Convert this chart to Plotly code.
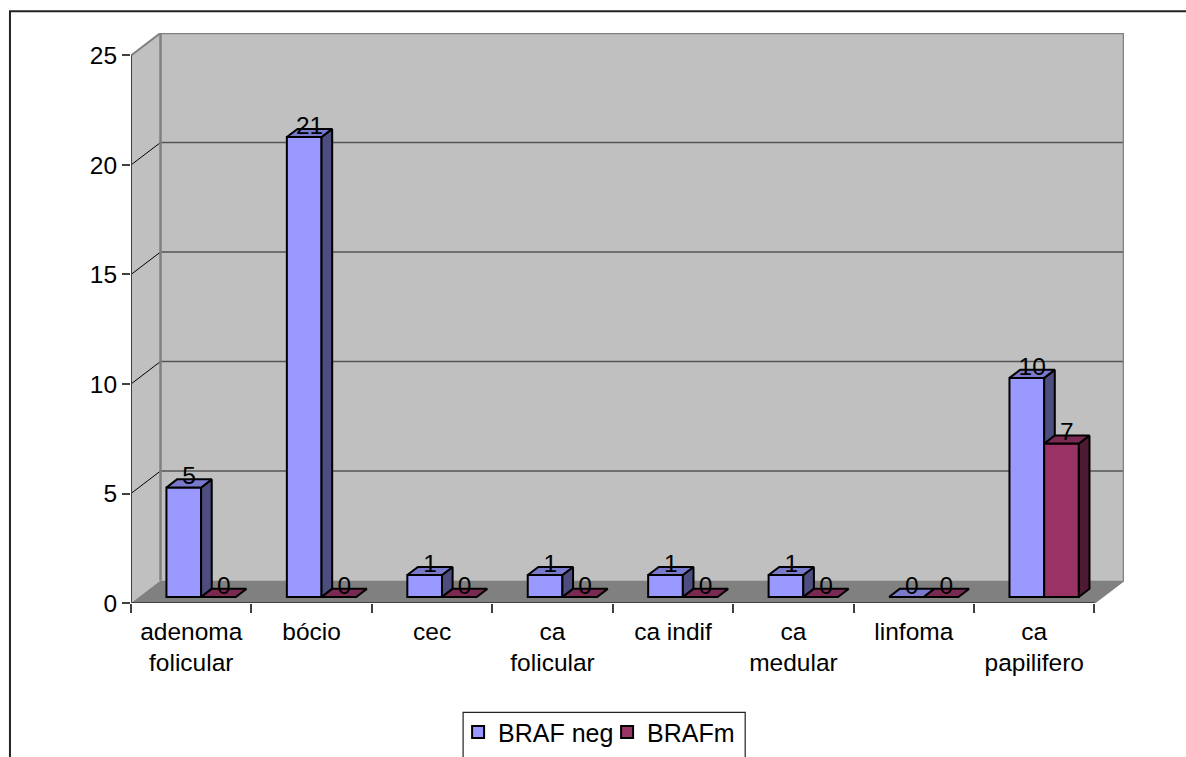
import plotly.graph_objects as go

# Counts per histological type
categories = ["adenoma<br>folicular", "bócio", "cec", "ca<br>folicular",
              "ca indif", "ca<br>medular", "linfoma", "ca<br>papilifero"]
braf_neg = [5, 21, 1, 1, 1, 1, 0, 10]
braf_m = [0, 0, 0, 0, 0, 0, 0, 7]
value_ticks = [0, 5, 10, 15, 20, 25]

WIDTH, HEIGHT = 1186, 757
LEFT, RIGHT, TOP, BOTTOM = 131, 1123.7, 32.7, 602.7
FONT = "Liberation Sans, Arial, sans-serif"
FS = 24.5

# Oblique projection: a point at depth d (0 = front, 1 = back wall)
DX, DY = 0.245, 1.027
D_FRONT, D_BACK = 0.27, 0.63
BAR_W = 0.288
N = len(categories)
XMAX = N + DX
YMAX = 25 + DY


def poly(points):
    xs = [p[0] for p in points] + [points[0][0], None]
    ys = [p[1] for p in points] + [points[0][1], None]
    return xs, ys


def join(polys):
    xs, ys = [], []
    for p in polys:
        a, b = poly(p)
        xs += a
        ys += b
    return xs, ys


def surface(name, points, fill, line="#808080", width=0):
    xs, ys = poly(points)
    return go.Scatter(x=xs, y=ys, mode="lines", fill="toself", fillcolor=fill,
                      line=dict(color=line, width=width), hoverinfo="skip",
                      showlegend=False, name=name, xaxis="x", yaxis="y")


def seg(a, b, color, width):
    return go.Scatter(x=[a[0], b[0]], y=[a[1], b[1]], mode="lines",
                      line=dict(color=color, width=width), hoverinfo="skip",
                      showlegend=False, xaxis="x", yaxis="y")


def series(name, values, left, front, top, side, xa, ya):
    """Front faces as bars, top and side faces and labels as overlays."""
    lefts = [i + left for i in range(N)]
    out = [go.Bar(
        x=[l + BAR_W / 2 + D_FRONT * DX for l in lefts], y=values,
        base=[D_FRONT * DY] * N, width=BAR_W, name=name,
        marker=dict(color=front, line=dict(color="#000000", width=2)),
        xaxis=xa, yaxis=ya, hoverinfo="name+y")]
    tops, sides = [], []
    for l, v in zip(lefts, values):
        r = l + BAR_W
        f = (D_FRONT * DX, D_FRONT * DY)
        b = (D_BACK * DX, D_BACK * DY)
        tops.append([(l + f[0], v + f[1]), (r + f[0], v + f[1]),
                     (r + b[0], v + b[1]), (l + b[0], v + b[1])])
        if v > 0:
            sides.append([(r + f[0], f[1]), (r + f[0], v + f[1]),
                          (r + b[0], v + b[1]), (r + b[0], b[1])])
    for polys, color in ((sides, side), (tops, top)):
        if polys:
            xs, ys = join(polys)
            out.append(go.Scatter(x=xs, y=ys, mode="lines", fill="toself",
                                  fillcolor=color,
                                  line=dict(color="#000000", width=2),
                                  hoverinfo="skip", showlegend=False,
                                  xaxis=xa, yaxis=ya))
    mid = (D_FRONT + D_BACK) / 2
    out.append(go.Scatter(
        x=[l + BAR_W / 2 + mid * DX for l in lefts],
        y=[v + mid * DY + 0.25 for v in values],
        text=[str(v) for v in values], mode="text",
        textposition="middle center",
        textfont=dict(family=FONT, size=FS, color="#000000"),
        hoverinfo="skip", showlegend=False, cliponaxis=False,
        xaxis=xa, yaxis=ya))
    return out


fig = go.Figure()

# Walls and floor of the box
fig.add_trace(surface("back", [(DX, DY), (XMAX, DY), (XMAX, YMAX), (DX, YMAX)], "#C0C0C0"))
fig.add_trace(surface("side", [(0, 0), (DX, DY), (DX, YMAX), (0, 25)], "#C0C0C0"))
fig.add_trace(surface("floor", [(0, 0), (N, 0), (XMAX, DY), (DX, DY)], "#808080"))

for v in value_ticks[1:-1]:
    fig.add_trace(seg((DX, v + DY), (XMAX, v + DY), "#555555", 1.6))
    fig.add_trace(seg((0, v), (DX, v + DY), "#000000", 1))
fig.add_trace(seg((DX, YMAX), (XMAX, YMAX), "#808080", 2.5))
fig.add_trace(seg((DX, DY), (DX, YMAX), "#808080", 2.5))
fig.add_trace(seg((XMAX, DY), (XMAX, YMAX), "#808080", 2.5))
fig.add_trace(seg((0, 25), (DX, YMAX), "#808080", 2))
fig.add_trace(seg((N, 0), (XMAX, DY), "#808080", 1.5))
fig.add_trace(seg((0, 0), (0, 25), "#404040", 2))
fig.add_trace(seg((0, 0), (N, 0), "#404040", 2))

for t in series("BRAF neg", braf_neg, 0.228, "#9999FF", "#7A7ACC", "#4D4D80", "x2", "y2"):
    fig.add_trace(t)
for t in series("BRAFm", braf_m, 0.516, "#993366", "#7A2952", "#4D1A33", "x3", "y3"):
    fig.add_trace(t)

plot_w = RIGHT - LEFT
plot_h = BOTTOM - TOP


def px(x):
    return (x - LEFT) / plot_w


def py(y):
    return (BOTTOM - y) / plot_h


frame = dict(type="path", xref="paper", yref="paper",
             path=f"M {px(10)} {py(HEIGHT + 2)} L {px(10)} {py(11)} L {px(WIDTH + 2)} {py(11)}",
             line=dict(color="#222222", width=2), layer="above")
legend_box = dict(type="path", xref="paper", yref="paper",
                  path=(f"M {px(463)} {py(HEIGHT + 2)} L {px(463)} {py(712)} "
                        f"L {px(745)} {py(712)} L {px(745)} {py(HEIGHT + 2)}"),
                  line=dict(color="#222222", width=1.2), layer="below")

hidden = dict(visible=False, range=[0, XMAX], fixedrange=True)
hidden_y = dict(visible=False, range=[0, YMAX], fixedrange=True)

fig.update_layout(
    width=WIDTH, height=HEIGHT,
    margin=dict(l=LEFT, r=WIDTH - RIGHT, t=TOP, b=HEIGHT - BOTTOM, pad=0, autoexpand=False),
    paper_bgcolor="#FFFFFF", plot_bgcolor="rgba(0,0,0,0)",
    font=dict(family=FONT, size=FS, color="#000000"),
    barmode="overlay",
    shapes=[frame, legend_box],
    xaxis=dict(range=[0, XMAX], tickmode="array", tickvals=list(range(N + 1)),
               showticklabels=False, ticks="outside", ticklen=9, tickwidth=1.5,
               tickcolor="#404040", showgrid=False, zeroline=False, showline=False),
    yaxis=dict(range=[0, YMAX], tickmode="array", tickvals=value_ticks,
               ticks="outside", ticklen=8, tickwidth=1.5, tickcolor="#404040",
               showgrid=False, zeroline=False, showline=False,
               tickfont=dict(family=FONT, size=FS)),
    xaxis2=dict(overlaying="x", anchor="y2", range=[0, XMAX], tickmode="array",
                tickvals=[i + 0.5 for i in range(N)], ticktext=categories,
                ticks="", showgrid=False, zeroline=False, showline=False,
                tickangle=0, ticklabelstandoff=11,
                tickfont=dict(family=FONT, size=FS)),
    yaxis2=dict(overlaying="y", anchor="x2", **hidden_y),
    xaxis3=dict(overlaying="x", anchor="y3", **hidden),
    yaxis3=dict(overlaying="y", anchor="x3", **hidden_y),
    legend=dict(orientation="h", x=px(458), y=py(709), xanchor="left", yanchor="top",
                borderwidth=0, bgcolor="rgba(0,0,0,0)", traceorder="normal",
                entrywidth=104, entrywidthmode="pixels",
                font=dict(family=FONT, size=25), itemclick=False, itemdoubleclick=False),
)

fig.write_html("out.html", config=dict(displayModeBar=False))
